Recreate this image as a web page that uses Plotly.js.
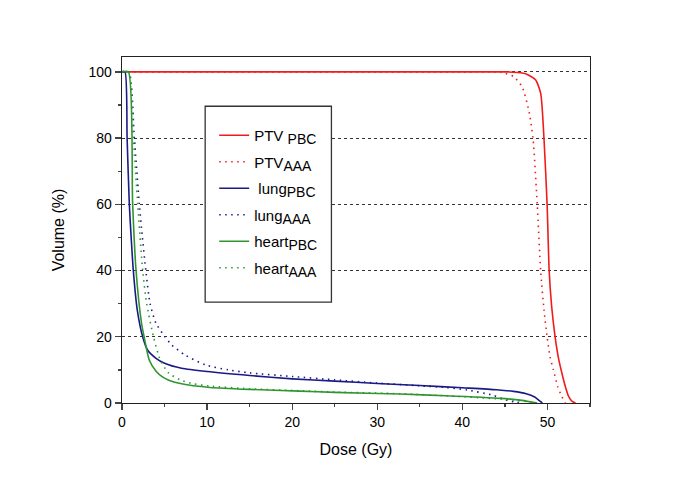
<!DOCTYPE html>
<html>
<head>
<meta charset="utf-8">
<script src="https://cdn.plot.ly/plotly-3.0.1.min.js"></script>
<style>html,body{margin:0;padding:0;background:#fff;}#chart{width:685px;height:484px;}</style>
</head>
<body>
<div id="chart"></div>
<script>
const ptvPbcDose = [0, 10, 20, 30, 40, 45, 46.5, 47.5, 48.6, 49.2, 49.6, 49.96, 50.2, 50.5, 50.9, 51.3, 51.7, 52.1, 52.5, 52.9, 53.3];
const ptvPbcVol  = [100, 100, 100, 100, 100, 100, 99.8, 99.4, 97.6, 93.6, 79.5, 60, 40, 29, 20, 13.5, 9, 5, 1.9, 0.5, 0];

const ptvAaaDose = [0, 10, 20, 30, 40, 44.5, 46, 47, 47.8, 48.3, 48.8, 49.2, 49.6, 49.96, 50.3, 50.7, 51.2, 51.7, 52.1];
const ptvAaaVol  = [100, 100, 100, 100, 100, 99.9, 98.6, 95.6, 88.5, 80, 60, 40, 28, 20, 14, 10, 5, 1.9, 0];

const lungPbcDose = [0, 0.35, 0.6, 0.86, 1.1, 1.33, 1.8, 2.43, 3, 4, 5, 7, 10, 15, 20, 25, 30, 35, 40, 44, 46, 47.5, 48.5, 49, 49.4];
const lungPbcVol  = [100, 100, 80, 60, 49, 40, 28, 20, 16, 13.5, 12, 10.5, 9.5, 8.3, 7.3, 6.6, 5.9, 5.3, 4.6, 4.0, 3.5, 2.8, 1.8, 0.8, 0];

const lungAaaDose = [0, 0.8, 1.45, 2.04, 2.4, 2.8, 3.3, 4, 5.06, 5.85, 7.4, 9.8, 12.5, 15, 20, 25, 30, 35, 38, 40.6, 43.5, 45, 46, 47];
const lungAaaVol  = [100, 100, 80, 60, 50, 40, 30, 24, 20, 17.5, 14.5, 11.5, 10, 9.1, 8.0, 7.0, 6.0, 5.2, 4.7, 3.9, 2.4, 1.0, 0.4, 0];

const heartPbcDose = [0, 0.75, 1.25, 1.65, 2.3, 2.6, 3.2, 4, 4.8, 5.5, 7, 10.35, 15, 20.9, 25, 32.7, 38, 44.5, 47, 48.8];
const heartPbcVol  = [100, 100, 60, 40, 24, 20, 13, 9.6, 7.8, 6.9, 5.8, 4.7, 4.1, 3.6, 3.2, 2.7, 2.2, 1.4, 0.8, 0];

const heartAaaDose = [0, 0.8, 1.33, 1.85, 2.43, 2.9, 3.7, 4.5, 5.5, 7, 8.4, 10.35, 15, 20.9, 25, 32.7, 38, 44.5, 46.5, 48.5];
const heartAaaVol  = [100, 100, 80, 60, 40, 30, 20, 13, 9, 6.8, 5.8, 5.1, 4.3, 3.7, 3.3, 2.8, 2.2, 1.2, 0.8, 0];

function sub(t) { return '<sub><span style="font-size:14px">' + t + '</span></sub>'; }
const seriesNames = ['PTV ' + sub('PBC'), 'PTV' + sub('AAA'), ' lung' + sub('PBC'), 'lung' + sub('AAA'), 'heart' + sub('PBC'), 'heart' + sub('AAA')];
const xTicks = [0, 10, 20, 30, 40, 50];
const yTicks = [0, 20, 40, 60, 80, 100];

const RED = '#f01c1c', NAVY = '#1a1a86', GREEN = '#2f962f';
const DOT = '1.5px,4.5px';
function tr(x, y, name, color, dash, i) {
  return {x: x, y: y, name: name, type: 'scatter', mode: 'lines', legendgroup: 'g' + i,
    line: {color: color, width: 1.6, dash: dash, shape: 'spline', smoothing: 0.6},
    hoverinfo: 'skip'};
}
const data = [
  tr(ptvPbcDose, ptvPbcVol, seriesNames[0], RED, 'solid', 0),
  tr(ptvAaaDose, ptvAaaVol, seriesNames[1], RED, DOT, 1),
  tr(lungPbcDose, lungPbcVol, seriesNames[2], NAVY, 'solid', 2),
  tr(lungAaaDose, lungAaaVol, seriesNames[3], NAVY, DOT, 3),
  tr(heartPbcDose, heartPbcVol, seriesNames[4], GREEN, 'solid', 4),
  tr(heartAaaDose, heartAaaVol, seriesNames[5], GREEN, DOT, 5)
];

const layout = {
  width: 685, height: 484,
  margin: {l: 122, r: 95, t: 57, b: 81},
  paper_bgcolor: '#fff', plot_bgcolor: '#fff',
  font: {family: 'Arial, "Liberation Sans", sans-serif', size: 14, color: '#000'},
  showlegend: true,
  legend: {x: 0.197, y: 0.821, xanchor: 'left', yanchor: 'top',
    borderwidth: 0, bgcolor: 'rgba(0,0,0,0)',
    font: {size: 15}, tracegroupgap: 4},
  shapes: [{type: 'rect', xref: 'paper', yref: 'paper', x0: 0.1777, x1: 0.4475, y0: 0.2917, y1: 0.8576,
    line: {color: '#333', width: 1.3}, fillcolor: '#fff', layer: 'above'}],
  xaxis: {range: [0, 55], tickvals: xTicks, ticks: 'outside', ticklen: 6, tickwidth: 1.3,
    showline: true, linecolor: '#222', linewidth: 1.3, mirror: true, showgrid: false, zeroline: false,
    minor: {ticks: 'outside', ticklen: 3, dtick: 5, tick0: 0, tickwidth: 1.3, showgrid: false},
    title: {text: 'Dose (Gy)', font: {size: 16}, standoff: 14}},
  yaxis: {range: [0, 104.5], tickvals: yTicks, ticks: 'outside', ticklen: 6, tickwidth: 1.3,
    showline: true, linecolor: '#222', linewidth: 1.3, mirror: true, zeroline: false,
    showgrid: true, gridcolor: '#333', griddash: 'dot', gridwidth: 1,
    minor: {ticks: 'outside', ticklen: 3, dtick: 10, tick0: 0, tickwidth: 1.3, showgrid: false},
    title: {text: 'Volume (%)', font: {size: 16}, standoff: 20}}
};
Plotly.newPlot('chart', data, layout, {staticPlot: true, displayModeBar: false});
</script>
</body>
</html>
